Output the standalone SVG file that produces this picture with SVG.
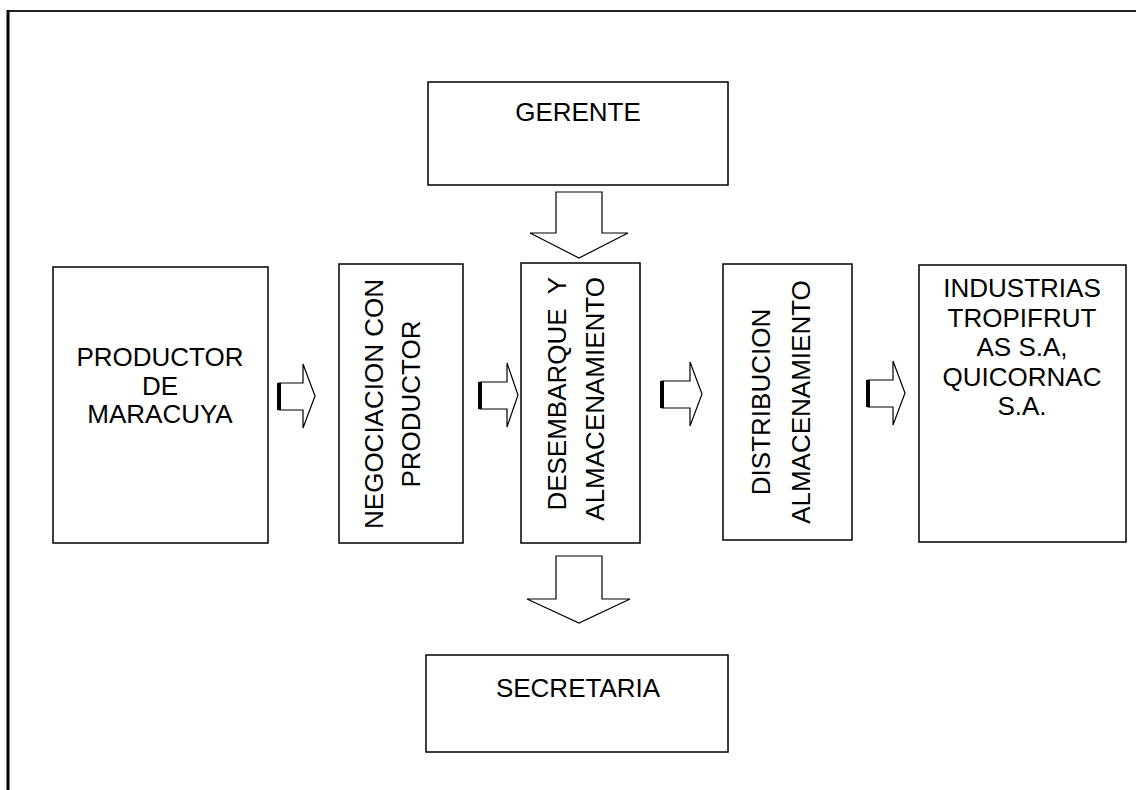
<svg xmlns="http://www.w3.org/2000/svg" width="1136" height="790" viewBox="0 0 1136 790">
<style>
.box{fill:#fff;stroke:#000;stroke-width:1.5}
.t{font-family:"Liberation Sans",Arial,sans-serif;font-size:26px;fill:#000}
.m{text-anchor:middle}
.e{text-anchor:end}
.arr{fill:#fff;stroke:#000;stroke-width:1.2;stroke-linejoin:miter}
</style>
<rect width="1136" height="790" fill="#fff"/>
<g id="frame">
<line x1="8" y1="11" x2="1136" y2="11" stroke="#222" stroke-width="2"/>
<line x1="8" y1="10" x2="8" y2="790" stroke="#000" stroke-width="3"/>
</g>
<g id="gerente">
<rect class="box" x="428" y="82" width="300" height="103"/>
<text class="t m" x="578" y="121" font-size="24">GERENTE</text>
</g>
<g id="productor">
<rect class="box" x="53" y="267" width="215" height="276"/>
<text class="t m" x="160" y="366">PRODUCTOR</text>
<text class="t m" x="160" y="395">DE</text>
<text class="t m" x="160" y="423">MARACUYA</text>
</g>
<g id="negociacion">
<rect class="box" x="339" y="264" width="124" height="279"/>
<text class="t m" transform="translate(383,404) rotate(-90)">NEGOCIACION CON</text>
<text class="t m" transform="translate(420,404) rotate(-90)">PRODUCTOR</text>
</g>
<g id="desembarque">
<rect class="box" x="521" y="263" width="119" height="280"/>
<text class="t e" transform="translate(566,277) rotate(-90)" xml:space="preserve">DESEMBARQUE  Y</text>
<text class="t e" transform="translate(604,277) rotate(-90)">ALMACENAMIENTO</text>
</g>
<g id="distribucion">
<rect class="box" x="723" y="264" width="129" height="276"/>
<text class="t m" transform="translate(770,402) rotate(-90)">DISTRIBUCION</text>
<text class="t m" transform="translate(810,402) rotate(-90)">ALMACENAMIENTO</text>
</g>
<g id="industrias">
<rect class="box" x="919" y="265" width="207" height="277"/>
<text class="t m" x="1022" y="297">INDUSTRIAS</text>
<text class="t m" x="1022" y="327">TROPIFRUT</text>
<text class="t m" x="1022" y="356">AS S.A,</text>
<text class="t m" x="1022" y="386">QUICORNAC</text>
<text class="t m" x="1022" y="415">S.A.</text>
</g>
<g id="secretaria">
<rect class="box" x="426" y="655" width="302" height="97"/>
<text class="t m" x="578" y="697">SECRETARIA</text>
</g>
<g id="connectors">
<g>
<polygon class="arr" points="279,383 303,383 303,364 315,396 303,428 303,410 279,410"/>
<rect x="277" y="383" width="4" height="27" fill="#000"/>
</g>
<g>
<polygon class="arr" points="480,382 507,382 507,363 518,395 507,427 507,409 480,409"/>
<rect x="478" y="382" width="4" height="27" fill="#000"/>
</g>
<g>
<polygon class="arr" points="662,381 690,381 690,362 702,394 690,426 690,408 662,408"/>
<rect x="660" y="381" width="4" height="27" fill="#000"/>
</g>
<g>
<polygon class="arr" points="868,380 893,380 893,361 905,393 893,425 893,407 868,407"/>
<rect x="866" y="380" width="4" height="27" fill="#000"/>
</g>
<polygon class="arr" points="556,192 602,192 602,233 628,233 579,258 530,233 556,233"/>
<polygon class="arr" points="556,556 602,556 602,599 630,599 579,623 527,599 556,599"/>
</g>
</svg>
